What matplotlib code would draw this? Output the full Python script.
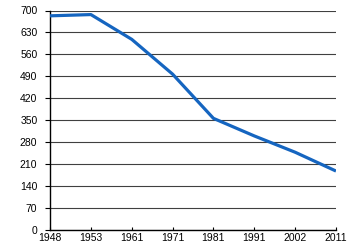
import matplotlib
matplotlib.use('Agg')
import matplotlib.pyplot as plt

years = ['1948', '1953', '1961', '1971', '1981', '1991', '2002', '2011']
values = [683, 687, 608, 497, 356, 300, 248, 188]

plt.rcParams['font.family'] = ['Liberation Sans', 'DejaVu Sans']

fig = plt.figure(figsize=(3.5, 2.5), dpi=100)
ax = fig.add_axes([0.143, 0.08, 0.817, 0.878])

x = list(range(len(years)))
ax.plot(x, values, color='#1565c0', linewidth=2.3, solid_capstyle='butt', zorder=3)

ax.set_xlim(0, len(years) - 1)
ax.set_ylim(0, 700)
ax.set_yticks(range(0, 701, 70))
ax.set_xticks(x)
ax.set_xticklabels(years)

ax.yaxis.grid(True, color='#404040', linewidth=0.8)
ax.set_axisbelow(True)
for s in ['top', 'right']:
    ax.spines[s].set_visible(False)
ax.spines['left'].set_linewidth(1.0)
ax.spines['bottom'].set_linewidth(1.0)

ax.tick_params(axis='y', direction='out', length=3.6, width=0.8, pad=5.5, labelsize=7.5)
ax.tick_params(axis='x', direction='in', length=2.5, width=0.8, pad=2, labelsize=7.5)

fig.savefig('out.png', dpi=100)
